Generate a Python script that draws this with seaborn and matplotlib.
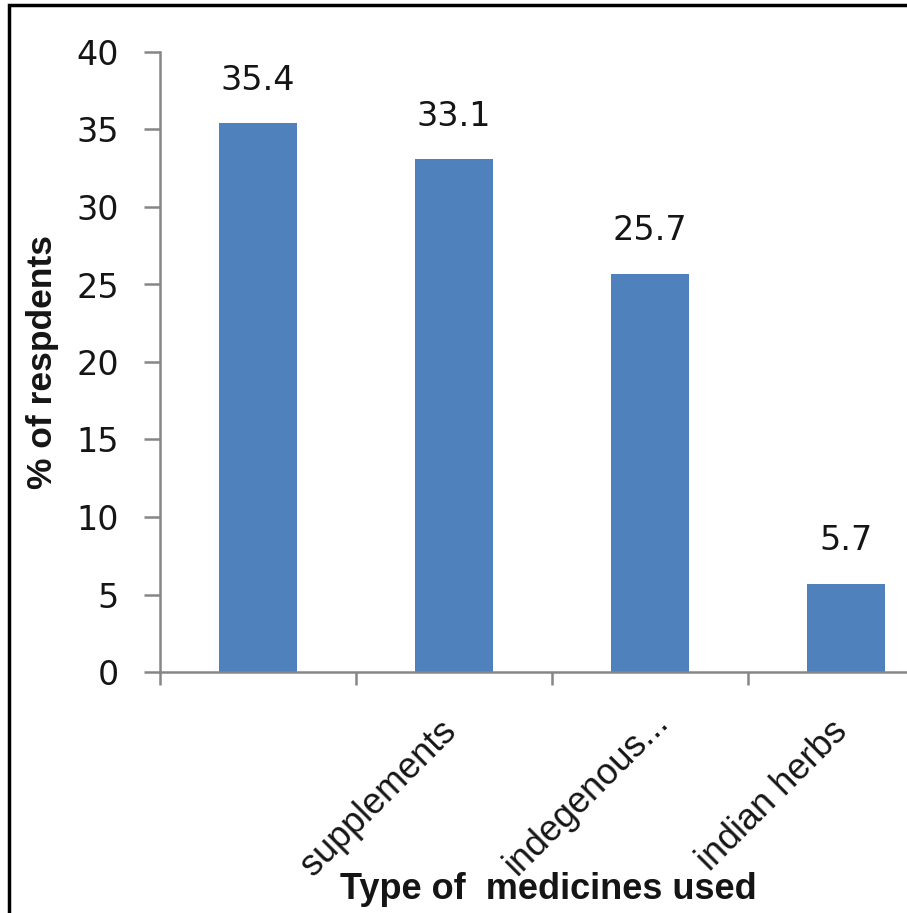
import matplotlib
matplotlib.use("Agg")
import matplotlib.pyplot as plt
import matplotlib.transforms as mtransforms
from matplotlib.patches import Rectangle
import seaborn as sns
import pandas as pd

categories = ["", "supplements", "indegenous...", "indian herbs"]
values = [35.4, 33.1, 25.7, 5.7]
value_labels = ["35.4", "33.1", "25.7", "5.7"]
y_ticks = [0, 5, 10, 15, 20, 25, 30, 35, 40]

sns.set_style("white")
plt.rcParams["font.family"] = ["DejaVu Sans"]

W, H, DPI = 907, 913, 100
fig = plt.figure(figsize=(W / DPI, H / DPI), dpi=DPI)
fig.patch.set_facecolor("white")

left_px, right_px, bottom_px, top_px = 160, 944, 672, 52
ax = fig.add_axes([left_px / W, (H - bottom_px) / H,
                   (right_px - left_px) / W, (bottom_px - top_px) / H])

df = pd.DataFrame({"cat": categories, "val": values})
sns.barplot(data=df, x="cat", y="val", order=categories, color="#4F81BD",
            saturation=1, width=0.4, ax=ax, edgecolor="none")

ax.set_xlim(-0.5, len(categories) - 0.5)
ax.set_ylim(0, 40)
ax.set_yticks(y_ticks)

axis_color = "#868686"
text_color = "#151515"
for s in ["top", "right"]:
    ax.spines[s].set_visible(False)
for s in ["left", "bottom"]:
    ax.spines[s].set_color(axis_color)
    ax.spines[s].set_linewidth(1.8)

ax.tick_params(axis="y", length=11.5, width=1.8, color=axis_color, pad=18,
               labelsize=24, labelcolor=text_color, direction="out", left=True)
ax.tick_params(axis="x", which="major", length=0, pad=30,
               labelsize=26, labelcolor=text_color, bottom=True)
ax.set_xticks(range(len(categories)))
ax.set_xticks([i - 0.5 for i in range(len(categories) + 1)], minor=True)
ax.tick_params(axis="x", which="minor", length=9, width=1.8, color=axis_color,
               direction="out", bottom=True)
ax.set_xticklabels(categories, rotation=45, ha="right", va="top",
                   fontfamily="Liberation Sans")
label_dx = [9, 9, 26, 9]
label_dy = [0, 0, 9, 0]
for lab, dx, dy in zip(ax.get_xticklabels(), label_dx, label_dy):
    off = mtransforms.ScaledTranslation(dx / DPI, dy / DPI, fig.dpi_scale_trans)
    lab.set_transform(lab.get_transform() + off)

for p, lab in zip(ax.patches, value_labels):
    ax.annotate(lab, (p.get_x() + p.get_width() / 2, p.get_height()),
                xytext=(0, 19), textcoords="offset points", ha="center",
                va="bottom", fontsize=24, color=text_color)

ax.set_xlabel("Type of  medicines used", fontfamily="Liberation Sans",
              fontweight="bold", fontsize=26, color=text_color)
ax.xaxis.set_label_coords((548 - left_px) / (right_px - left_px),
                          (bottom_px - 872) / (bottom_px - top_px))
ax.xaxis.label.set_va("top")
ax.set_ylabel("% of respdents", fontfamily="Liberation Sans", fontweight="bold",
              fontsize=25.5, color=text_color)
ax.yaxis.set_label_coords((43 - left_px) / (right_px - left_px), 0.5)
ax.yaxis.label.set_va("center")

fig.patches.append(Rectangle((8.5 / W, -0.1), 2.0, (H - 5.5) / H + 0.1,
                             transform=fig.transFigure, fill=False,
                             edgecolor="black", linewidth=2.5))

fig.savefig("out.png", dpi=DPI, facecolor="white")
